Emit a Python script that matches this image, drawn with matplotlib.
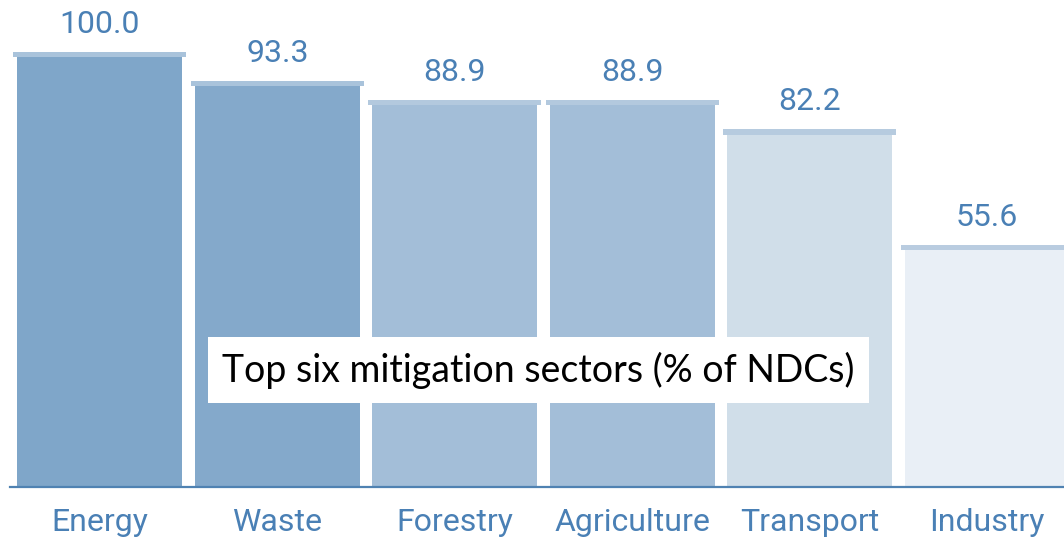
import matplotlib.pyplot as plt
import numpy as np

# Data
sectors = ['Energy', 'Waste', 'Forestry', 'Agriculture', 'Transport', 'Industry']
values = [100.0, 93.3, 88.9, 88.9, 82.2, 55.6]
bar_colors = ['#7fa6c9', '#84a9cb', '#a3bed8', '#a3bed8', '#d0dee9', '#e9eff6']
cap_colors = ['#a9c3db', '#a9c3db', '#b3c9de', '#b3c9de', '#b6cbdf', '#b9cce0']

x = np.arange(len(sectors))
text_blue = '#4a80b5'

fig = plt.figure(figsize=(10.64, 5.38), dpi=100)
ax = fig.add_axes([10 / 1064, 51 / 538, 1054 / 1064, 487 / 538])

ax.bar(x, values, width=0.93, color=bar_colors, zorder=2)
# thin wider cap on top of each bar
ax.bar(x, 1.2, width=0.975, bottom=np.array(values) - 1.2, color=cap_colors, zorder=3)

for xi, v in zip(x, values):
    ax.text(xi, v + 3.0, f'{v:.1f}', ha='center', va='bottom', fontsize=23,
            family='Roboto', color=text_blue)

ax.set_xlim(-0.507, 5.434)
ax.set_ylim(0, 111.95)
ax.set_xticks(x)
ax.set_xticklabels(sectors, family='Roboto', fontsize=23, color=text_blue)
ax.tick_params(axis='x', length=0, pad=15)
ax.set_yticks([])
for s in ['top', 'right', 'left']:
    ax.spines[s].set_visible(False)
ax.spines['bottom'].set_color('#4f82b2')
ax.spines['bottom'].set_linewidth(1.6)
ax.spines['bottom'].set_zorder(4)

ax.text(0.501, 0.24, 'Top six mitigation sectors (% of NDCs)', transform=ax.transAxes,
        ha='center', va='center', fontsize=27, family='Lato', color='black', zorder=5,
        bbox=dict(boxstyle='square,pad=0.38', facecolor='white', edgecolor='none'))

fig.savefig('out.png', dpi=100)
